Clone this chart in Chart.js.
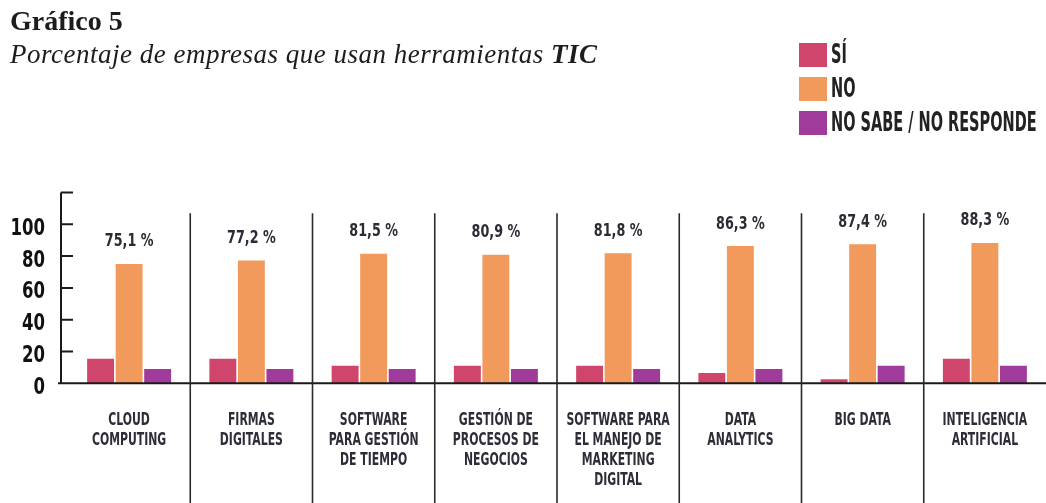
<!DOCTYPE html>
<html><head><meta charset="utf-8">
<script src="https://cdn.jsdelivr.net/npm/chart.js@4.4.1/dist/chart.umd.min.js"></script>
<style>
html,body{margin:0;padding:0;background:#fff;}
#wrap{position:relative;width:1046px;height:503px;overflow:hidden;}
#c{position:absolute;left:0;top:0;}
#title{position:absolute;left:10px;top:5px;font:bold 28px 'Liberation Serif',serif;color:#1c1c1c;white-space:nowrap;}
#subtitle{position:absolute;left:10px;top:39px;font:italic 27px 'Liberation Serif',serif;letter-spacing:0.5px;color:#1c1c1c;white-space:nowrap;}
#subtitle b{font-weight:bold;}
#legend{position:absolute;left:799px;top:43px;}
.item{position:relative;height:34px;}
.box{position:absolute;left:0;top:0;width:28px;height:24px;}
.lab{position:absolute;left:32px;top:-4px;font:bold 26px 'DejaVu Sans Condensed','Liberation Sans Narrow',sans-serif;transform:scaleX(.62);transform-origin:0 0;white-space:nowrap;color:#222;}
</style></head>
<body>
<div id="wrap">
<canvas id="c" width="1046" height="503"></canvas>
<div id="title">Gráfico 5</div>
<div id="subtitle">Porcentaje de empresas que usan herramientas <b>TIC</b></div>
<div id="legend"></div>
</div>
<script>
const categories = [
  ['CLOUD','COMPUTING'],
  ['FIRMAS','DIGITALES'],
  ['SOFTWARE','PARA GESTIÓN','DE TIEMPO'],
  ['GESTIÓN DE','PROCESOS DE','NEGOCIOS'],
  ['SOFTWARE PARA','EL MANEJO DE','MARKETING','DIGITAL'],
  ['DATA','ANALYTICS'],
  ['BIG DATA'],
  ['INTELIGENCIA','ARTIFICIAL']
];
const seriesNames = ['SÍ', 'NO', 'NO SABE / NO RESPONDE'];
const siValues = [15.5, 15.5, 11, 11, 11, 6.5, 2.5, 15.5];
const noValues = [75.1, 77.2, 81.5, 80.9, 81.8, 86.3, 87.4, 88.3];
const nsValues = [9, 9, 9, 9, 9, 9, 11, 11];
const noLabels = ['75,1 %', '77,2 %', '81,5 %', '80,9 %', '81,8 %', '86,3 %', '87,4 %', '88,3 %'];
const yTickLabels = [0, 20, 40, 60, 80, 100];
const yMax = 120;
const yStep = 20;
const colors = ['#d0456c', '#f19a5b', '#a13b9b'];

const cond = "'DejaVu Sans Condensed','Liberation Sans Narrow',sans-serif";

function squeezeText(ctx, text, x, y, font, sx, align, color) {
  ctx.save();
  ctx.translate(x, y);
  ctx.scale(sx, 1);
  ctx.font = font;
  ctx.textAlign = align;
  ctx.textBaseline = 'alphabetic';
  ctx.fillStyle = color;
  ctx.fillText(text, 0, 0);
  ctx.restore();
}

const decor = {
  id: 'decor',
  afterDraw(chart) {
    const {ctx, chartArea: a, scales: {x, y}} = chart;
    const y0 = y.getPixelForValue(0);
    const yTop = y.getPixelForValue(yMax);
    const axisX = a.left - 7;
    ctx.save();
    ctx.strokeStyle = '#1a1a1a';
    ctx.lineWidth = 2;
    ctx.beginPath();
    ctx.moveTo(axisX, yTop); ctx.lineTo(axisX, y0);
    for (let v = yStep; v <= yMax; v += yStep) {
      const p = y.getPixelForValue(v);
      ctx.moveTo(axisX, p); ctx.lineTo(axisX + 12, p);
    }
    ctx.moveTo(axisX - 3, y0); ctx.lineTo(chart.width, y0);
    ctx.stroke();
    // separators between categories
    ctx.lineWidth = 1.6;
    ctx.strokeStyle = '#2a2a2a';
    const w = (a.right - a.left) / categories.length;
    const sepTop = y.getPixelForValue(107);
    ctx.beginPath();
    for (let i = 1; i < categories.length; i++) {
      const xp = a.left + i * w;
      ctx.moveTo(xp, sepTop); ctx.lineTo(xp, chart.height);
    }
    ctx.stroke();
    ctx.restore();
    // y tick labels
    yTickLabels.forEach(v => {
      squeezeText(ctx, String(v), 45, y.getPixelForValue(v) + 10.4, 'bold 23px ' + cond, 0.8, 'right', '#111');
    });
    // category labels
    categories.forEach((lines, i) => {
      const cx = x.getPixelForValue(i);
      lines.forEach((ln, k) => {
        squeezeText(ctx, ln, cx, y0 + 41.7 + k * 20, 'bold 17px ' + cond, 0.71, 'center', '#2d2d38');
      });
    });
    // value labels above NO bars
    chart.getDatasetMeta(1).data.forEach((bar, i) => {
      squeezeText(ctx, noLabels[i], bar.x, bar.y - 17.5, 'bold 17.5px ' + cond, 0.81, 'center', '#2b2b35');
    });
  }
};

const chart = new Chart(document.getElementById('c'), {
  type: 'bar',
  data: {
    labels: categories,
    datasets: [
      {label: seriesNames[0], data: siValues, backgroundColor: colors[0]},
      {label: seriesNames[1], data: noValues, backgroundColor: colors[1]},
      {label: seriesNames[2], data: nsValues, backgroundColor: colors[2]}
    ]
  },
  options: {
    responsive: false,
    animation: false,
    categoryPercentage: 0.70,
    barPercentage: 0.944,
    layout: {padding: {top: 192.5, left: 0, right: 0, bottom: 0}},
    plugins: {legend: {display: false}, title: {display: false}, tooltip: {enabled: false}},
    scales: {
      x: {
        grid: {display: false, drawTicks: false},
        border: {display: false},
        ticks: {display: false},
        afterFit(s) { s.height = 119.7; }
      },
      y: {
        min: 0, max: yMax,
        grid: {display: false, drawTicks: false},
        border: {display: false},
        ticks: {display: false, stepSize: yStep},
        afterFit(s) { s.width = 68; }
      }
    }
  },
  plugins: [decor]
});

const leg = document.getElementById('legend');
chart.data.datasets.forEach(ds => {
  const it = document.createElement('div'); it.className = 'item';
  const b = document.createElement('div'); b.className = 'box'; b.style.background = ds.backgroundColor;
  const t = document.createElement('div'); t.className = 'lab'; t.textContent = ds.label;
  it.appendChild(b); it.appendChild(t); leg.appendChild(it);
});
</script>
</body></html>
